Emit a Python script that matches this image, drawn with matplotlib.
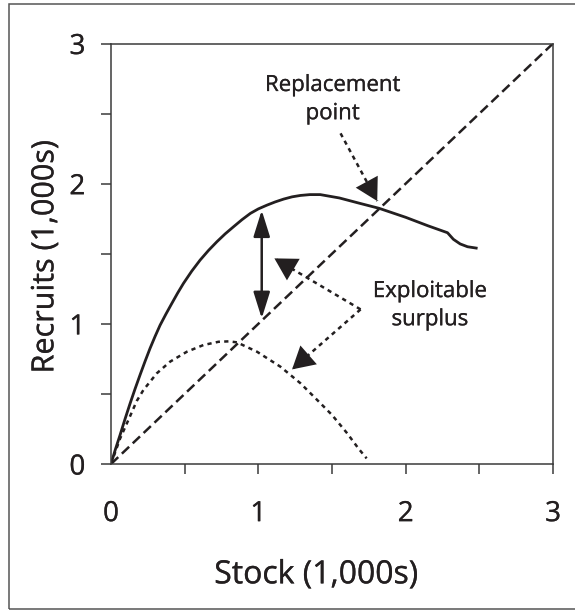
import matplotlib
matplotlib.use('Agg')
import matplotlib.pyplot as plt
import matplotlib.patheffects as pe
from matplotlib.patches import Rectangle

# ---- data ----
stock_curve = [0.0, 0.03, 0.061, 0.095, 0.129, 0.163, 0.197, 0.231, 0.265, 0.299,
               0.333, 0.373, 0.413, 0.452, 0.492, 0.548, 0.605, 0.662, 0.719, 0.775,
               0.832, 0.889, 0.946, 1.0, 1.059, 1.115, 1.172, 1.229, 1.286, 1.35,
               1.42, 1.55, 1.68, 1.82, 2.0, 2.15, 2.284, 2.324, 2.37, 2.42, 2.488]
recruits_curve = [0.0, 0.105, 0.205, 0.32, 0.43, 0.535, 0.635, 0.732, 0.825, 0.91,
                  0.99, 1.07, 1.146, 1.219, 1.289, 1.376, 1.455, 1.524, 1.586, 1.642,
                  1.693, 1.743, 1.788, 1.820, 1.847, 1.870, 1.890, 1.906, 1.916, 1.922,
                  1.922, 1.898, 1.862, 1.824, 1.76, 1.70, 1.65, 1.603, 1.57, 1.55, 1.539]

stock_surplus = [0.0, 0.061, 0.129, 0.175, 0.220, 0.311, 0.401, 0.515, 0.628, 0.730,
                 0.80, 0.855, 0.991, 1.150, 1.286, 1.422, 1.50, 1.603, 1.68, 1.735]
recruits_surplus = [0.0, 0.18, 0.34, 0.45, 0.528, 0.647, 0.73, 0.801, 0.849, 0.872,
                    0.875, 0.868, 0.801, 0.694, 0.576, 0.433, 0.35, 0.219, 0.11, 0.04]

replacement_line = [0, 3]

x_ticks = [0, 0.5, 1, 1.5, 2, 2.5, 3]
x_tick_labels = ['0', '', '1', '', '2', '', '3']
y_major = [0, 1, 2, 3]
y_major_labels = ['0', '1', '2', '3']
y_minor = [0.5, 1.5, 2.5]

x_label = 'Stock (1,000s)'
y_label = 'Recruits (1,000s)'

replacement_text = 'Replacement\npoint'
replacement_text_pos = (1.505, 2.46)
replacement_arrow_start = (1.558, 2.359)
replacement_arrow_tip = (1.807, 1.876)

surplus_text = 'Exploitable\nsurplus'
surplus_text_pos = (2.165, 0.99)
surplus_elbow = (1.694, 1.103)
surplus_tip_upper = (1.109, 1.467)
surplus_tip_lower = (1.229, 0.675)

gap_x = 1.023
gap_top = 1.81
gap_bottom = 1.039

# ---- style ----
INK = '#231f20'
plt.rcParams['font.family'] = ['Open Sans', 'DejaVu Sans']
BOLDEN = [pe.withStroke(linewidth=0.2, foreground=INK)]

W, H = 575, 612
fig = plt.figure(figsize=(W / 100, H / 100), dpi=100)
ax = fig.add_axes([111 / W, 1 - 464 / H, 442 / W, 420.5 / H])
ax.set_xlim(0, 3)
ax.set_ylim(0, 3)

ax.plot(stock_curve, recruits_curve, color=INK, lw=2.0, solid_capstyle='butt',
        solid_joinstyle='round')
ax.plot(stock_surplus, recruits_surplus, color=INK, lw=1.8, linestyle=(0, (1.7, 1.7)))
ax.plot(replacement_line, replacement_line, color=INK, lw=1.8, linestyle=(0, (4.0, 2.0)))

# double arrow showing the gap
ax.annotate('', xy=(gap_x, gap_top), xytext=(gap_x, gap_bottom),
            arrowprops=dict(arrowstyle='<|-|>,head_length=1.15,head_width=0.36',
                            mutation_scale=14, color=INK, lw=1.8,
                            shrinkA=0, shrinkB=0))

PX = 0.72  # points per pixel at dpi 100


def dotted_arrow(start, tip):
    ax.plot([start[0], tip[0]], [start[1], tip[1]], color=INK, lw=1.8,
            linestyle=(0, (1.7, 1.7)))
    back = (tip[0] + (start[0] - tip[0]) * 0.3, tip[1] + (start[1] - tip[1]) * 0.3)
    ax.annotate('', xy=tip, xytext=back,
                arrowprops=dict(arrowstyle='-|>,head_length=%.2f,head_width=%.2f'
                                % (22 * PX, 12.5 * PX),
                                mutation_scale=1, fc=INK, ec='none', lw=0,
                                shrinkA=0, shrinkB=0))


dotted_arrow(replacement_arrow_start, replacement_arrow_tip)
dotted_arrow(surplus_elbow, surplus_tip_upper)
dotted_arrow(surplus_elbow, surplus_tip_lower)

ax.text(*replacement_text_pos, replacement_text, ha='center', va='baseline',
        fontsize=16, color=INK, linespacing=1.45, path_effects=BOLDEN)
ax.text(*surplus_text_pos, surplus_text, ha='center', va='baseline',
        fontsize=16, color=INK, linespacing=1.45, path_effects=BOLDEN)

# axes styling
for s in ax.spines.values():
    s.set_color('#3a3a3a')
    s.set_linewidth(1.1)

ax.set_xticks(x_ticks)
ax.set_xticklabels(x_tick_labels)
ax.xaxis.get_major_ticks()[0].tick1line.set_visible(False)
ax.set_yticks(y_major)
ax.set_yticklabels(y_major_labels)
ax.set_yticks(y_minor, minor=True)
ax.tick_params(axis='both', which='both', direction='out', length=7.5, width=1.1,
               color='#3a3a3a', labelcolor=INK, labelsize=20)
ax.tick_params(axis='x', pad=18.5)
ax.tick_params(axis='y', pad=11)
for lab in ax.get_xticklabels() + ax.get_yticklabels():
    lab.set_path_effects(BOLDEN)

fig.text(316.7 / W, 1 - 583.3 / H, x_label, ha='center', va='baseline',
         fontsize=23, color=INK, path_effects=BOLDEN)
fig.text(53.3 / W, 1 - 257 / H, y_label, ha='center', va='baseline',
         rotation=90, rotation_mode='anchor', fontsize=22, color=INK,
         path_effects=BOLDEN)

fig.add_artist(Rectangle((9 / W, 1 - 609 / H), 2.0, 605 / H,
                         transform=fig.transFigure, fill=False,
                         ec='#555555', lw=1.1))

fig.savefig('out.png', dpi=100)
